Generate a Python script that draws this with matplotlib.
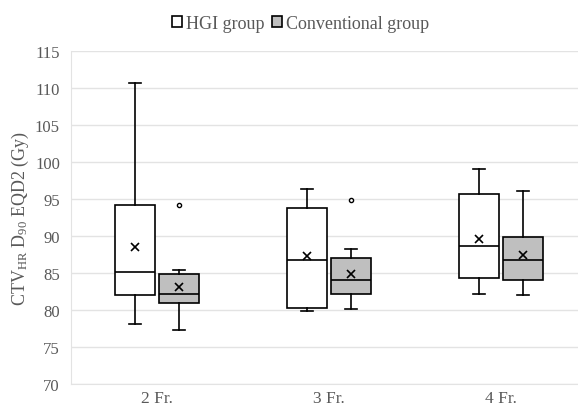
import matplotlib.pyplot as plt
from matplotlib.patches import Patch

plt.rcParams['font.family'] = ['Liberation Serif', 'DejaVu Serif']
plt.rcParams['mathtext.fontset'] = 'custom'
plt.rcParams['mathtext.rm'] = 'Liberation Serif'
plt.rcParams['mathtext.it'] = 'Liberation Serif:italic'

categories = ['2 Fr.', '3 Fr.', '4 Fr.']
groups = ['HGI group', 'Conventional group']

# five-number summaries
hgi_whislo = [78.1, 79.85, 82.2]
hgi_q1 = [82.0, 80.3, 84.3]
hgi_med = [85.2, 86.7, 88.6]
hgi_q3 = [94.25, 93.85, 95.7]
hgi_whishi = [110.7, 96.4, 99.0]
hgi_mean = [88.5, 87.3, 89.65]
hgi_fliers = [[], [], []]

conv_whislo = [77.3, 80.1, 82.0]
conv_q1 = [81.0, 82.2, 84.1]
conv_med = [82.15, 84.0, 86.7]
conv_q3 = [84.85, 87.0, 89.8]
conv_whishi = [85.4, 88.2, 96.05]
conv_mean = [83.1, 84.9, 87.4]
conv_fliers = [[94.2], [94.8], []]

def make_stats(lo, q1, med, q3, hi, mean, fl):
    return [dict(whislo=a, q1=b, med=c, q3=d, whishi=e, mean=f, fliers=g)
            for a, b, c, d, e, f, g in zip(lo, q1, med, q3, hi, mean, fl)]

hgi_stats = make_stats(hgi_whislo, hgi_q1, hgi_med, hgi_q3, hgi_whishi, hgi_mean, hgi_fliers)
conv_stats = make_stats(conv_whislo, conv_q1, conv_med, conv_q3, conv_whishi, conv_mean, conv_fliers)

txt = '#595959'
fig = plt.figure(figsize=(5.78, 4.10), dpi=100)
ax = fig.add_axes([71 / 578, 25 / 410, 1 - 71 / 578, 333 / 410])

offset = 0.127
width = 0.235
for stats, shift, color in [(hgi_stats, -offset, 'white'), (conv_stats, offset, '#BFBFBF')]:
    pos = [i + shift for i in range(len(categories))]
    ax.bxp(stats, positions=pos, widths=width, patch_artist=True, showmeans=True,
           capwidths=0.07,
           boxprops=dict(facecolor=color, edgecolor='black', linewidth=1.2),
           medianprops=dict(color='black', linewidth=1.2),
           whiskerprops=dict(color='black', linewidth=1.2),
           capprops=dict(color='black', linewidth=1.2),
           meanprops=dict(marker='x', markeredgecolor='black', markersize=6, markeredgewidth=1.2),
           flierprops=dict(marker='o', markerfacecolor='white', markeredgecolor='black',
                           markersize=3, markeredgewidth=1.0))

ax.set_ylim(70, 115)
ax.set_yticks(range(70, 116, 5))
ax.set_xlim(-0.5, 2.448)
ax.set_xticks(range(len(categories)))
ax.set_xticklabels(categories)
ax.yaxis.grid(True, color='#E3E3E3', linewidth=1)
ax.set_axisbelow(True)
ax.tick_params(length=0, labelsize=12, colors=txt, pad=8)
ax.tick_params(axis='x', labelsize=12.5, pad=4)
for s in ['top', 'right']:
    ax.spines[s].set_visible(False)
for s in ['left', 'bottom']:
    ax.spines[s].set_color('#E3E3E3')
ax.set_ylabel(r'CTV$_\mathrm{HR}$ D$_{90}$ EQD2 (Gy)', fontsize=13, color=txt)
ax.yaxis.set_label_coords(-0.078, 0.5)

handles = [Patch(facecolor='white', edgecolor='black', linewidth=1.2),
           Patch(facecolor='#BFBFBF', edgecolor='black', linewidth=1.2)]
fig.legend(handles, groups, loc='upper center', bbox_to_anchor=(0.52, 1.0), ncol=2,
           frameon=False, fontsize=13, labelcolor=txt, handlelength=0.55, handleheight=0.55,
           handletextpad=0.25, columnspacing=0.4)

fig.savefig('out.png', dpi=100)
